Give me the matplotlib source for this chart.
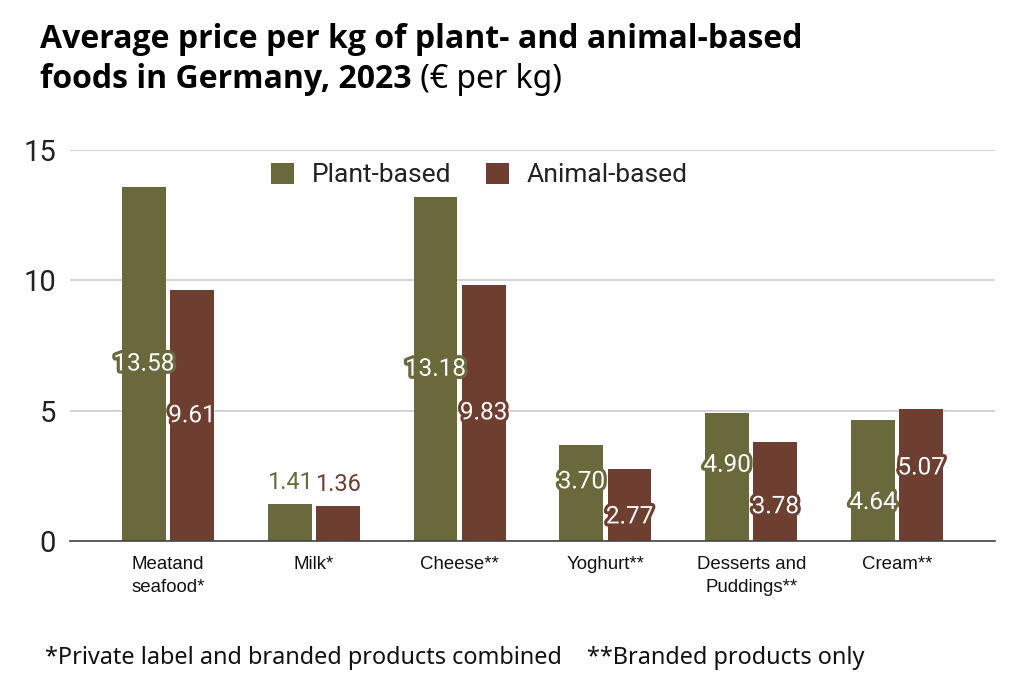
import matplotlib
matplotlib.use("Agg")
import matplotlib.pyplot as plt
import matplotlib.patheffects as pe
import numpy as np

categories = ["Meatand\nseafood*", "Milk*", "Cheese**", "Yoghurt**", "Desserts and\nPuddings**", "Cream**"]
plant_values = [13.58, 1.41, 13.18, 3.70, 4.90, 4.64]
animal_values = [9.61, 1.36, 9.83, 2.77, 3.78, 5.07]
series_names = ["Plant-based", "Animal-based"]
y_ticks = [0, 5, 10, 15]

# label style: 'in' = centred inside bar (with pixel nudge), 'out' = above bar
plant_label_mode = ["in", "out", "in", "in", "in", "in"]
animal_label_mode = ["in", "out", "in", "in", "in", "in"]
plant_label_nudge = [0, 0, 0, 11, 12, -22]
animal_label_nudge = [0, 0, 0, -12, -15, 7]

GREEN = "#6a693c"
BROWN = "#6e3e30"
BODY = ["Roboto", "DejaVu Sans"]
PLEX = ["Noto Sans", "DejaVu Sans"]
TITLE = ["Open Sans", "DejaVu Sans"]

fig = plt.figure(figsize=(10.24, 6.94), dpi=100)
ax = fig.add_axes([70/1024, 1-541/694, 925/1024, 391/694])

x = np.arange(len(categories))
w = 0.30
gap = 0.015
b1 = ax.bar(x - w/2 - gap, plant_values, w, color=GREEN, label=series_names[0], zorder=3)
b2 = ax.bar(x + w/2 + gap, animal_values, w, color=BROWN, label=series_names[1], zorder=3)

ax.set_ylim(0, 15)
ax.set_xlim(-0.672, len(categories) - 1 + 0.672)
ax.set_yticks(y_ticks)
ax.set_yticklabels([str(t) for t in y_ticks], fontsize=21, family=BODY, color="#222222")
ax.set_xticks(x)
ax.set_xticklabels(categories, fontsize=13.4, family=["Liberation Sans", "DejaVu Sans"],
                   color="#111111", linespacing=1.45)
ax.tick_params(axis="both", length=0)
ax.tick_params(axis="y", pad=10)
ax.tick_params(axis="x", pad=11)
for s in ["top", "right", "left"]:
    ax.spines[s].set_visible(False)
ax.spines["bottom"].set_color("#444444")
ax.spines["bottom"].set_linewidth(1.2)
ax.spines["bottom"].set_zorder(4)
ax.yaxis.grid(True, color="#cccccc", linewidth=1.2, zorder=0)
ax.set_axisbelow(True)

def label_bars(bars, vals, modes, nudges, color):
    for bar, v, m, n in zip(bars, vals, modes, nudges):
        cx = bar.get_x() + bar.get_width()/2
        if m == "out":
            ax.annotate(f"{v:.2f}", xy=(cx, v), xytext=(0, 10), textcoords="offset pixels",
                        ha="center", va="bottom", fontsize=17, family=BODY, color=color, zorder=5)
        else:
            t = ax.annotate(f"{v:.2f}", xy=(cx, v/2), xytext=(0, n), textcoords="offset pixels",
                            ha="center", va="center", fontsize=17.5, family=BODY, color="white", zorder=5)
            t.set_path_effects([pe.withStroke(linewidth=4.5, foreground=color)])

label_bars(b1, plant_values, plant_label_mode, plant_label_nudge, GREEN)
label_bars(b2, animal_values, animal_label_mode, animal_label_nudge, BROWN)

leg = ax.legend(loc="upper center", bbox_to_anchor=(0.443, 1.028), ncol=2, frameon=False,
                prop={"family": BODY, "size": 19}, handlelength=0.85, handleheight=0.85,
                columnspacing=1.3, handletextpad=0.7)
for t in leg.get_texts():
    t.set_color("#222222")

fig.text(40/1024, 1-40/694, "Average price per kg of plant- and animal-based",
         fontsize=23, fontweight="bold", family=TITLE, va="center", ha="left")
t2 = fig.text(40/1024, 1-80/694, "foods in Germany, 2023",
              fontsize=23, fontweight="bold", family=TITLE, va="center", ha="left")
ax.annotate(" (€ per kg)", xy=(1, 0), xycoords=t2, ha="left", va="bottom",
            fontsize=23, family=PLEX, annotation_clip=False)

fig.text(45/1024, 1-658/694, "*Private label and branded products combined",
         fontsize=16.9, family=PLEX, va="center", ha="left", color="#111111")
fig.text(587/1024, 1-658/694, "**Branded products only",
         fontsize=16.9, family=PLEX, va="center", ha="left", color="#111111")

fig.savefig("out.png", dpi=100)
